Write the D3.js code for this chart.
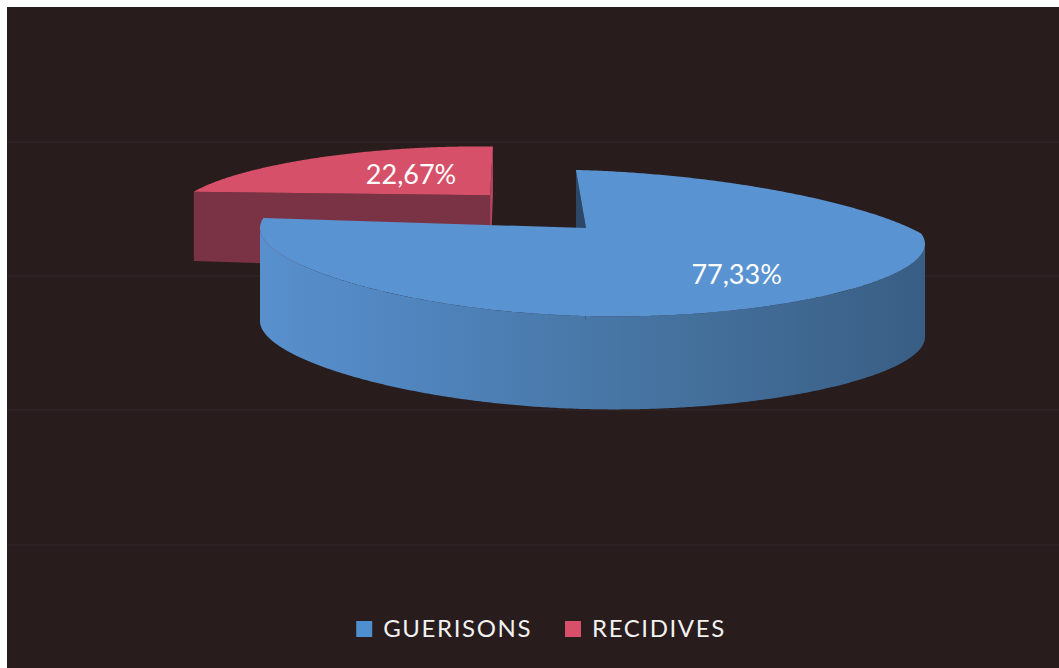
<!DOCTYPE html>
<html><head><meta charset="utf-8">
<script src="https://cdn.jsdelivr.net/npm/d3@7"></script>
<style>html,body{margin:0;padding:0;background:#fff;}svg{display:block}</style>
</head><body>
<svg id="chart" width="1059" height="668"></svg>
<script>
// ---- data ----
const categories = ["GUERISONS", "RECIDIVES"];
const values = [77.33, 22.67];
const valueLabels = ["77,33%", "22,67%"];
const explodedSlices = ["RECIDIVES"];

// ---- layout / style ----
const W = 1059, H = 668;
const CX = 586, CY = 228, RXL = 326, RXR = 339, RY = 70, PX = 510;
const KX = 0.18, KY = 0.205, Z0 = 0.15, DEPTH = 93, KH = 0.71, TILT = 16;
const explodeOffset = {dx: -0.298, dz: 0.487};
const labelPos = {GUERISONS: {r: 0.68, dy: "0.38em"}, RECIDIVES: {r: 0.42, dy: "0.25em"}};
const topColor = {GUERISONS: "#5a93d1", RECIDIVES: "#d7506a"};
const cutColor = {GUERISONS: ["#2c4866", "#2c4866"], RECIDIVES: ["#7a3345", "#b4455c"]};
const legendColor = {GUERISONS: "#4f8ecf", RECIDIVES: "#d84f69"};
const FONT = "Lato, 'Open Sans', sans-serif";

const svg = d3.select("#chart");
svg.append("rect").attr("x", 7).attr("y", 7).attr("width", W - 7).attr("height", H - 7).attr("fill", "#281c1d");
svg.selectAll("line.scan").data([142, 276, 410, 545]).join("line")
  .attr("x1", 7).attr("x2", W).attr("y1", d => d).attr("y2", d => d)
  .attr("stroke", "rgba(255,255,255,0.06)").attr("stroke-width", 1);

const defs = svg.append("defs");
const g1 = defs.append("linearGradient").attr("id", "sideBlue").attr("gradientUnits", "userSpaceOnUse")
  .attr("x1", 262).attr("x2", 925).attr("y1", 0).attr("y2", 0);
[[0, "#5890cd"], [0.2, "#5186c0"], [0.55, "#4775a3"], [1, "#395e84"]].forEach(([o, c]) =>
  g1.append("stop").attr("offset", o).attr("stop-color", c));
const sideFill = {GUERISONS: "url(#sideBlue)", RECIDIVES: "#7a3345"};

const xsL = d3.scaleLinear().domain([-1, 0]).range([CX - RXL, CX]);
const xsR = d3.scaleLinear().domain([0, 1]).range([CX, CX + RXR]);
const ys = d3.scaleLinear().domain([-1, 1]).range([CY + RY, CY - RY]);

function proj(x, z, bottom) {
  const g = 1 / (1 + KX * Math.max(0, z - Z0));
  const sy = 1 / (1 + KY * z);
  const X = PX + ((x < 0 ? xsL(x) : xsR(x)) - PX) * g;
  let Y = CY + (ys(z) - CY) * sy + TILT * x * (1 + x) / 2;
  if (bottom) Y += DEPTH / (1 + KH * Math.max(0, z - Z0));
  return [X, Y];
}

const data = categories.map((c, i) => ({cat: c, value: values[i], label: valueLabels[i]}));
const pie = d3.pie().sort(null).value(d => d.value);
const arcs = pie(data).map(a => {
  const off = explodedSlices.includes(a.data.cat) ? explodeOffset : {dx: 0, dz: 0};
  const mid = (a.startAngle + a.endAngle) / 2;
  return Object.assign(a, {off, mid, depth: off.dz + Math.cos(mid)});
});

function pt(a, theta, r, bottom) {
  return proj(a.off.dx + r * Math.sin(theta), a.off.dz + r * Math.cos(theta), bottom);
}
function rimRange(a, t0, t1, bottom) {
  const n = Math.max(2, Math.ceil((t1 - t0) / (Math.PI / 360)) + 1);
  return d3.range(n).map(i => pt(a, t0 + (t1 - t0) * i / (n - 1), 1, bottom));
}
function signed(poly) {
  let s = 0;
  for (let i = 0; i < poly.length; i++) {
    const p = poly[i], q = poly[(i + 1) % poly.length];
    s += p[0] * q[1] - q[0] * p[1];
  }
  return s;
}
const line = d3.line().curve(d3.curveLinearClosed);

const order = arcs.slice().sort((a, b) => b.depth - a.depth);
order.forEach(a => {
  const g = svg.append("g");
  // outer side: only the front-facing half of the rim
  const s0 = Math.max(a.startAngle, Math.PI / 2), s1 = Math.min(a.endAngle, 3 * Math.PI / 2);
  if (s1 > s0) {
    const t = rimRange(a, s0, s1, false), b = rimRange(a, s0, s1, true);
    g.append("path").attr("d", line(t.concat(b.reverse()))).attr("fill", sideFill[a.data.cat]);
  }
  const vT = pt(a, 0, 0, false), vB = pt(a, 0, 0, true);
  const faces = [
    [vT, pt(a, a.startAngle, 1, false), pt(a, a.startAngle, 1, true), vB],
    [pt(a, a.endAngle, 1, false), vT, vB, pt(a, a.endAngle, 1, true)]
  ];
  faces.forEach((f, i) => {
    if (signed(f) < 0) g.append("path").attr("d", line(f)).attr("fill", cutColor[a.data.cat][i]);
  });
  g.append("path").attr("d", line([vT].concat(rimRange(a, a.startAngle, a.endAngle, false))))
    .attr("fill", topColor[a.data.cat]);
});

// labels
arcs.forEach(a => {
  const lp = labelPos[a.data.cat];
  const p = pt(a, a.mid, lp.r, false);
  svg.append("text").attr("x", p[0]).attr("y", p[1]).attr("dy", lp.dy)
    .attr("text-anchor", "middle").attr("fill", "#ffffff")
    .style("font-family", FONT).style("font-size", "27px")
    .text(a.data.label);
});

// legend
const color = d3.scaleOrdinal(categories, categories.map(c => legendColor[c]));
const legend = svg.append("g");
const items = legend.selectAll("g").data(categories).join("g");
items.append("rect").attr("width", 16).attr("height", 16).attr("y", -16).attr("fill", d => color(d));
items.append("text").attr("x", 27).attr("y", 0).attr("fill", "#f2f2f2")
  .style("font-family", FONT).style("font-size", "24px").style("letter-spacing", "1.6px").text(d => d);
let x = 0;
items.each(function () {
  d3.select(this).attr("transform", `translate(${x},0)`);
  x += this.getBBox().width + 33;
});
const total = x - 33;
legend.attr("transform", `translate(${541 - total / 2},637)`);
</script>
</body></html>
